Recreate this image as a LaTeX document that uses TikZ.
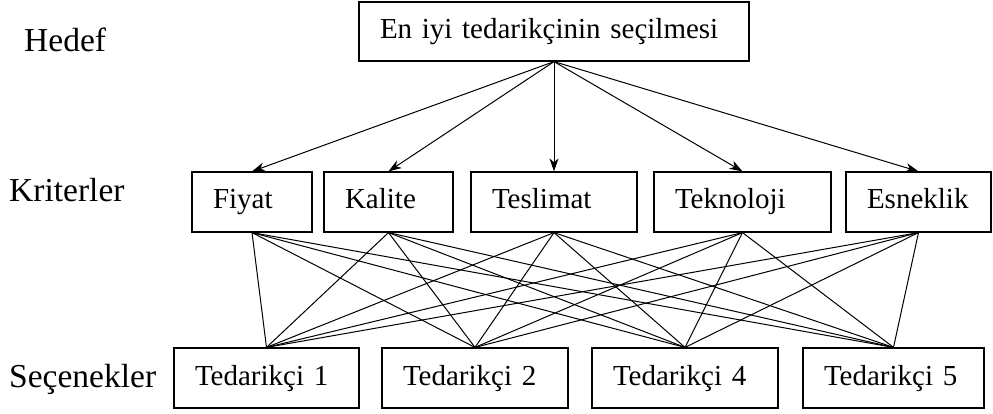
\documentclass[tikz,border=0pt]{standalone}
\usepackage{fontspec}
\setmainfont{Liberation Serif}
\usetikzlibrary{arrows.meta}

\newcommand{\boxfont}{\fontsize{29pt}{34pt}\selectfont}
\newcommand{\levelfont}{\fontsize{33.5pt}{38pt}\selectfont}

\tikzset{
  box/.style={draw, line width=1.2pt, inner xsep=21pt, inner ysep=0pt,
    align=left, minimum height=60pt, font=\boxfont,
    text height=20pt, text depth=6pt},
  level/.style={anchor=base west, inner sep=0pt, font=\levelfont},
  link/.style={line width=1pt},
  down/.style={line width=1pt, -{Stealth[length=13pt,width=9pt,inset=4pt]}}
}

\begin{document}
\begin{tikzpicture}[x=1pt,y=-1pt]
  \useasboundingbox (0,0) rectangle (993,414);

  % level names
  \node[level] (lgoal) at (24,52)  {Hedef};
  \node[level] (lcrit) at (9,202)  {Kriterler};
  \node[level] (lalt)  at (9,387)  {Seçenekler};

  % goal
  \node[box, text width=348pt, minimum height=59pt] (goal) at (554,31.5)
    {En iyi tedarikçinin seçilmesi};

  % criteria
  \node[box, text width=78pt]  (c1) at (252,202)   {Fiyat};
  \node[box, text width=87pt]  (c2) at (388.5,202) {Kalite};
  \node[box, text width=124pt] (c3) at (554,202)   {Teslimat};
  \node[box, text width=135pt] (c4) at (742.5,202) {Teknoloji};
  \node[box, text width=103pt] (c5) at (918.5,202) {Esneklik};

  % alternatives
  \node[box, text width=143pt] (a1) at (266.5,378) {Tedarikçi 1};
  \node[box, text width=144pt] (a2) at (475,378)   {Tedarikçi 2};
  \node[box, text width=144pt] (a4) at (685,378)   {Tedarikçi 4};
  \node[box, text width=139pt] (a5) at (893.5,378) {Tedarikçi 5};

  % goal -> criteria
  \foreach \c in {c1,c2,c3,c4,c5}
    \draw[down] (goal.south) -- (\c.north);

  % criteria -- alternatives
  \foreach \c in {c1,c2,c3,c4,c5}
    \foreach \a in {a1,a2,a4,a5}
      \draw[link] (\c.south) -- (\a.north);
\end{tikzpicture}
\end{document}
